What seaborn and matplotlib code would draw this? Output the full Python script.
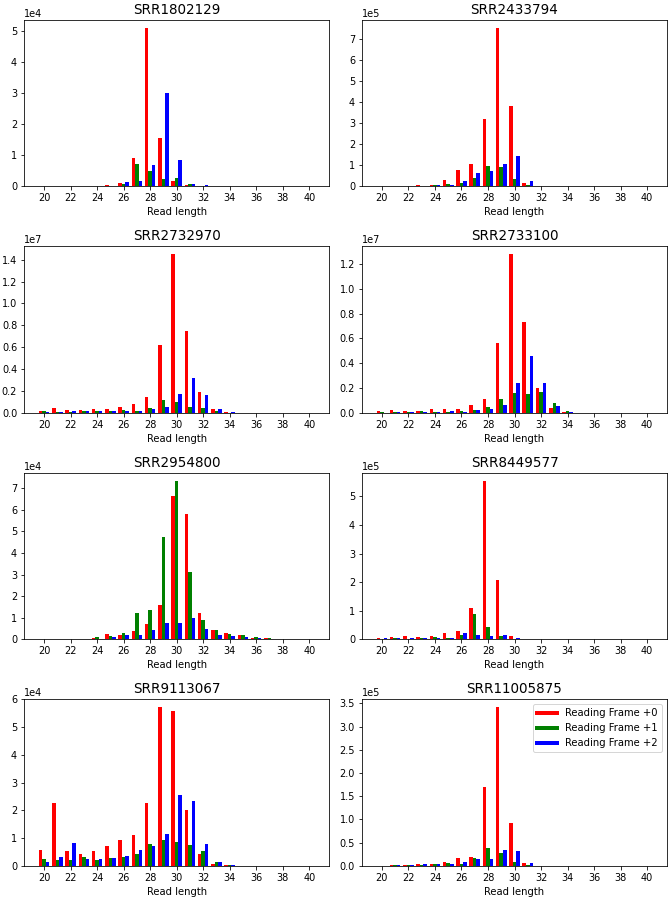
import numpy as np
import pandas as pd
import matplotlib
matplotlib.use("Agg")
import matplotlib.pyplot as plt
from matplotlib.lines import Line2D
import seaborn as sns

lengths = list(range(20, 41))
frames = ["Reading Frame +0", "Reading Frame +1", "Reading Frame +2"]
colors = ["red", "green", "blue"]

def pad(d):
    return [d.get(L, 0.0) for L in lengths]

# SRR1802129 (x1e4)
s1_scale = 1e4
s1_f0 = pad({21: 0.01, 22: 0.02, 23: 0.01, 24: 0.02, 25: 0.05, 26: 0.12, 27: 0.9, 28: 5.12, 29: 1.55, 30: 0.17, 31: 0.05, 32: 0.02, 33: 0.01})
s1_f1 = pad({21: 0.02, 22: 0.01, 24: 0.01, 25: 0.01, 26: 0.08, 27: 0.73, 28: 0.48, 29: 0.25, 30: 0.28, 31: 0.08, 32: 0.01, 33: 0.01})
s1_f2 = pad({23: 0.02, 24: 0.01, 25: 0.02, 26: 0.13, 27: 0.17, 28: 0.68, 29: 3.02, 30: 0.85, 31: 0.07, 32: 0.03, 33: 0.01})

# SRR2433794 (x1e5)
s2_scale = 1e5
s2_f0 = pad({22: 0.02, 23: 0.04, 24: 0.07, 25: 0.32, 26: 0.77, 27: 1.05, 28: 3.18, 29: 7.53, 30: 3.82, 31: 0.17, 32: 0.02})
s2_f1 = pad({23: 0.01, 24: 0.04, 25: 0.12, 26: 0.14, 27: 0.38, 28: 0.95, 29: 0.9, 30: 0.35, 31: 0.08, 32: 0.01})
s2_f2 = pad({23: 0.01, 24: 0.05, 25: 0.06, 26: 0.26, 27: 0.62, 28: 0.73, 29: 1.08, 30: 1.42, 31: 0.26, 32: 0.01})

# SRR2732970 (x1e7)
s3_scale = 1e7
s3_f0 = pad({20: 0.02, 21: 0.04, 22: 0.03, 23: 0.028, 24: 0.038, 25: 0.038, 26: 0.05, 27: 0.078, 28: 0.142, 29: 0.62, 30: 1.45, 31: 0.745, 32: 0.19, 33: 0.035, 34: 0.003})
s3_f1 = pad({20: 0.015, 21: 0.01, 22: 0.008, 23: 0.015, 24: 0.012, 25: 0.015, 26: 0.022, 27: 0.02, 28: 0.048, 29: 0.115, 30: 0.102, 31: 0.055, 32: 0.04, 33: 0.012, 34: 0.002})
s3_f2 = pad({20: 0.01, 21: 0.01, 22: 0.02, 23: 0.015, 24: 0.015, 25: 0.02, 26: 0.015, 27: 0.02, 28: 0.035, 29: 0.055, 30: 0.17, 31: 0.315, 32: 0.163, 33: 0.035, 34: 0.003})

# SRR2733100 (x1e7)
s4_scale = 1e7
s4_f0 = pad({20: 0.012, 21: 0.022, 22: 0.018, 23: 0.018, 24: 0.03, 25: 0.028, 26: 0.033, 27: 0.063, 28: 0.113, 29: 0.56, 30: 1.28, 31: 0.73, 32: 0.198, 33: 0.04, 34: 0.007})
s4_f1 = pad({20: 0.005, 21: 0.006, 22: 0.005, 23: 0.015, 24: 0.01, 25: 0.01, 26: 0.016, 27: 0.02, 28: 0.045, 29: 0.115, 30: 0.16, 31: 0.148, 32: 0.165, 33: 0.075, 34: 0.015})
s4_f2 = pad({20: 0.002, 21: 0.004, 22: 0.006, 23: 0.01, 24: 0.008, 25: 0.012, 26: 0.01, 27: 0.02, 28: 0.032, 29: 0.063, 30: 0.24, 31: 0.455, 32: 0.24, 33: 0.058, 34: 0.008})

# SRR2954800 (x1e4)
s5_scale = 1e4
s5_f0 = pad({24: 0.06, 25: 0.25, 26: 0.18, 27: 0.37, 28: 0.7, 29: 1.58, 30: 6.65, 31: 5.82, 32: 1.2, 33: 0.43, 34: 0.28, 35: 0.18, 36: 0.08, 37: 0.04, 38: 0.02, 39: 0.005})
s5_f1 = pad({24: 0.12, 25: 0.15, 26: 0.28, 27: 1.22, 28: 1.36, 29: 4.73, 30: 7.35, 31: 3.12, 32: 0.87, 33: 0.43, 34: 0.25, 35: 0.22, 36: 0.12, 37: 0.06, 38: 0.03, 39: 0.02})
s5_f2 = pad({24: 0.03, 25: 0.09, 26: 0.22, 27: 0.2, 28: 0.42, 29: 0.74, 30: 0.75, 31: 0.97, 32: 0.48, 33: 0.22, 34: 0.15, 35: 0.12, 36: 0.06, 37: 0.03, 38: 0.01})

# SRR8449577 (x1e5)
s6_scale = 1e5
s6_f0 = pad({20: 0.05, 21: 0.08, 22: 0.1, 23: 0.08, 24: 0.1, 25: 0.22, 26: 0.3, 27: 1.08, 28: 5.55, 29: 2.08, 30: 0.12, 31: 0.01})
s6_f1 = pad({20: 0.01, 21: 0.05, 22: 0.02, 23: 0.03, 24: 0.07, 25: 0.05, 26: 0.15, 27: 0.9, 28: 0.42, 29: 0.12, 30: 0.02})
s6_f2 = pad({20: 0.03, 21: 0.03, 22: 0.03, 23: 0.05, 24: 0.03, 25: 0.03, 26: 0.22, 27: 0.15, 28: 0.1, 29: 0.15, 30: 0.03})

# SRR9113067 (x1e4)
s7_scale = 1e4
s7_f0 = pad({20: 0.55, 21: 2.28, 22: 0.52, 23: 0.42, 24: 0.52, 25: 0.7, 26: 0.92, 27: 1.1, 28: 2.28, 29: 5.72, 30: 5.58, 31: 2.02, 32: 0.42, 33: 0.08, 34: 0.02})
s7_f1 = pad({20: 0.23, 21: 0.2, 22: 0.2, 23: 0.3, 24: 0.2, 25: 0.28, 26: 0.3, 27: 0.44, 28: 0.8, 29: 0.92, 30: 0.87, 31: 0.73, 32: 0.52, 33: 0.13, 34: 0.03})
s7_f2 = pad({20: 0.13, 21: 0.3, 22: 0.82, 23: 0.23, 24: 0.26, 25: 0.28, 26: 0.36, 27: 0.56, 28: 0.7, 29: 1.13, 30: 2.56, 31: 2.33, 32: 0.8, 33: 0.13, 34: 0.02})

# SRR11005875 (x1e5)
s8_scale = 1e5
s8_f0 = pad({21: 0.01, 22: 0.02, 23: 0.04, 24: 0.03, 25: 0.08, 26: 0.16, 27: 0.19, 28: 1.7, 29: 3.42, 30: 0.93, 31: 0.05})
s8_f1 = pad({21: 0.01, 22: 0.02, 23: 0.01, 24: 0.03, 25: 0.06, 26: 0.04, 27: 0.16, 28: 0.38, 29: 0.27, 30: 0.08, 31: 0.01})
s8_f2 = pad({21: 0.01, 22: 0.01, 23: 0.03, 24: 0.04, 25: 0.03, 26: 0.07, 27: 0.14, 28: 0.14, 29: 0.33, 30: 0.31, 31: 0.05})

samples = [
    ("SRR1802129", s1_scale, s1_f0, s1_f1, s1_f2),
    ("SRR2433794", s2_scale, s2_f0, s2_f1, s2_f2),
    ("SRR2732970", s3_scale, s3_f0, s3_f1, s3_f2),
    ("SRR2733100", s4_scale, s4_f0, s4_f1, s4_f2),
    ("SRR2954800", s5_scale, s5_f0, s5_f1, s5_f2),
    ("SRR8449577", s6_scale, s6_f0, s6_f1, s6_f2),
    ("SRR9113067", s7_scale, s7_f0, s7_f1, s7_f2),
    ("SRR11005875", s8_scale, s8_f0, s8_f1, s8_f2),
]

plt.rcParams["font.family"] = ["DejaVu Sans"]
plt.rcParams["xtick.labelsize"] = 9.8
plt.rcParams["ytick.labelsize"] = 9.8
fig, axes = plt.subplots(4, 2, figsize=(671 / 72, 899 / 72), dpi=72)
fig.subplots_adjust(left=0.036, right=0.994, top=0.978, bottom=0.037,
                    wspace=0.108, hspace=0.36)

for ax, (name, scale, f0, f1, f2) in zip(axes.flat, samples):
    rows = []
    for fr, vals in zip(frames, (f0, f1, f2)):
        for L, v in zip(lengths, vals):
            rows.append({"length": L, "count": v * scale, "frame": fr})
    df = pd.DataFrame(rows)
    sns.barplot(data=df, x="length", y="count", hue="frame", hue_order=frames,
                palette=colors, native_scale=True, width=0.8, dodge=True,
                errorbar=None, linewidth=0, saturation=1, legend=False, ax=ax)
    ax.set_title(name, fontsize=13.5)
    ax.set_xlabel("Read length", fontsize=10)
    ax.set_ylabel("")
    ax.set_xticks(range(20, 41, 2))
    ax.set_xlim(18.5, 41.5)
    ax.ticklabel_format(axis="y", style="sci", scilimits=(0, 0), useMathText=False)
    ax.yaxis.get_offset_text().set_fontsize(9.8)

handles = [Line2D([0], [0], color=c, lw=4) for c in colors]
axes[3, 1].legend(handles, frames, loc="upper right", fontsize=10)

fig.savefig("out.png", dpi=72)
